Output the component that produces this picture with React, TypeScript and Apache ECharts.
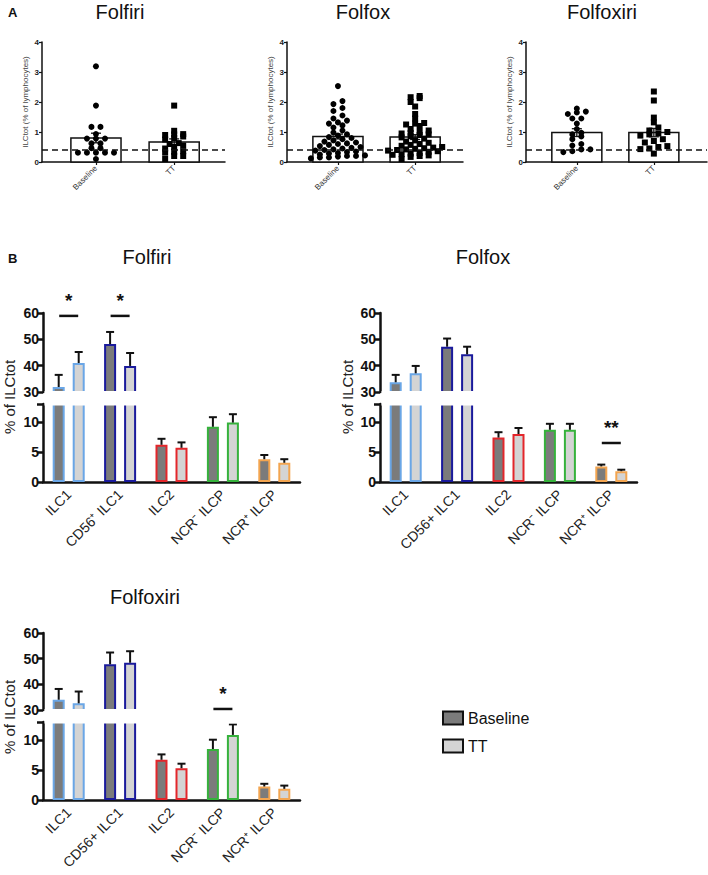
import React, { useEffect, useRef } from 'react';
import * as echarts from 'echarts';

const FONT = "'Liberation Sans', Arial, Helvetica, sans-serif";

// ---------- Panel A data ----------
const groupsA = ['Baseline', 'TT'];
const thresholdA = 0.4;
const folfiriBaselinePts = [3.19, 1.88, 1.17, 1.17, 0.93, 0.78, 0.78, 0.78, 0.62, 0.62, 0.46, 0.46, 0.31, 0.31, 0.31, 0.31, 0.31, 0.1];
const folfiriTTPts = [1.88, 1.04, 0.93, 0.92, 0.9, 0.85, 0.8, 0.75, 0.63, 0.6, 0.55, 0.5, 0.45, 0.36, 0.34, 0.31, 0.2, 0.2, 0.1];
const folfoxBaselinePts = [2.53, 2.03, 1.93, 1.8, 1.7, 1.55, 1.45, 1.38, 1.32, 1.28, 1.22, 1.15, 1.05, 0.98, 0.92, 0.88, 0.83, 0.8, 0.76, 0.72, 0.68, 0.65, 0.62, 0.6, 0.57, 0.53, 0.5, 0.47, 0.45, 0.42, 0.4, 0.38, 0.35, 0.33, 0.3, 0.28, 0.25, 0.22, 0.2, 0.2, 0.18, 0.15, 0.15, 0.12];
const folfoxTTPts = [2.2, 2.16, 2.13, 2.0, 1.85, 1.6, 1.45, 1.3, 1.28, 1.25, 1.2, 1.1, 1.05, 1.0, 0.97, 0.95, 0.92, 0.9, 0.86, 0.82, 0.78, 0.72, 0.68, 0.64, 0.6, 0.57, 0.54, 0.5, 0.48, 0.46, 0.44, 0.42, 0.4, 0.38, 0.36, 0.34, 0.3, 0.28, 0.26, 0.24, 0.22, 0.2, 0.17, 0.1];
const folfoxiriBaselinePts = [1.78, 1.68, 1.65, 1.6, 1.45, 1.45, 1.28, 1.1, 0.97, 0.92, 0.85, 0.76, 0.6, 0.55, 0.42, 0.42, 0.36, 0.33];
const folfoxiriTTPts = [2.35, 2.05, 1.48, 1.32, 1.15, 1.05, 1.0, 0.95, 0.92, 0.88, 0.76, 0.7, 0.65, 0.53, 0.5, 0.45, 0.43, 0.28];
const folfiriMeansA = [0.8, 0.67];
const folfiriSemA = [0.16, 0.1];
const folfoxMeansA = [0.85, 0.83];
const folfoxSemA = [0.08, 0.08];
const folfoxiriMeansA = [0.98, 0.98];
const folfoxiriSemA = [0.13, 0.14];

// ---------- Panel B data ----------
const catsFolfiri = ['ILC1', 'CD56⁺ ILC1', 'ILC2', 'NCR⁻ ILCP', 'NCR⁺ ILCP'];
const catsFolfox = ['ILC1', 'CD56+ ILC1', 'ILC2', 'NCR⁻ ILCP', 'NCR⁺ ILCP'];
const catsFolfoxiri = ['ILC1', 'CD56+ ILC1', 'ILC2', 'NCR⁻ ILCP', 'NCR⁺ ILCP'];
const catColors = ['#6aa6e6', '#1a1a9c', '#e3262b', '#36b23c', '#f3a550'];

const folfiriBaseline = [31.9, 48.2, 6.2, 9.2, 3.8];
const folfiriBaselineSem = [4.6, 4.6, 1.0, 1.6, 0.7];
const folfiriTT = [41.0, 39.9, 5.7, 9.9, 3.2];
const folfiriTTSem = [4.2, 4.9, 0.9, 1.4, 0.6];

const folfoxBaseline = [33.7, 47.2, 7.4, 8.7, 2.6];
const folfoxBaselineSem = [2.8, 3.1, 0.9, 1.0, 0.3];
const folfoxTT = [37.1, 44.3, 8.0, 8.7, 1.8];
const folfoxTTSem = [2.8, 2.9, 1.0, 1.0, 0.25];

const folfoxiriBaseline = [34.0, 47.8, 6.7, 8.5, 2.25];
const folfoxiriBaselineSem = [4.2, 4.6, 0.9, 1.55, 0.45];
const folfoxiriTT = [32.6, 48.4, 5.3, 10.85, 1.86];
const folfoxiriTTSem = [4.6, 4.5, 0.75, 1.75, 0.54];

// significance annotations: [category index, y value, segment, text]
const sigFolfiri: [number, number, string, string][] = [[0, 58.9, 'upper', '*'], [1, 58.9, 'upper', '*']];
const sigFolfox: [number, number, string, string][] = [[4, 6.5, 'lower', '**']];
const sigFolfoxiri: [number, number, string, string][] = [[3, 30.4, 'upper', '*']];

const upperTicks = [30, 40, 50, 60];
const lowerLabels = [0, 5, 10];
const lowerTicks = [0, 5, 10, 13];
const brokenUpper = [30, 60];
const brokenLowerMax = 13;
const fillBaseline = '#7b7b7b';
const fillTT = '#d4d4d4';

// ---------- layout ----------
const layoutA = [
  { left: 42, width: 183, min: -0.69, max: 1.65, pxPerUnit: 78, titleX: 120 },
  { left: 287, width: 176, min: -0.66, max: 1.62, pxPerUnit: 77, titleX: 363 },
  { left: 526, width: 181, min: -0.66, max: 1.69, pxPerUnit: 77, titleX: 602 },
];
const A_TOP = 42;
const A_HEIGHT = 120;

const layoutB = [
  { left: 43, width: 257, upperTop: 313, upperH: 79, lowerTop: 404, lowerH: 78, titleX: 147, titleY: 257, nameX: 9, nameY: 397 },
  { left: 380, width: 257, upperTop: 313, upperH: 79, lowerTop: 404, lowerH: 78, titleX: 483, titleY: 257, nameX: 347, nameY: 397 },
  { left: 43, width: 257, upperTop: 633, upperH: 77, lowerTop: 722, lowerH: 78, titleX: 145, titleY: 597, nameX: 9, nameY: 717 },
];

function swarm(vals: number[], binSize: number, stepUnits: number, center: number) {
  const sorted = [...vals].sort((a, b) => a - b);
  const rows: number[][] = [];
  for (const v of sorted) {
    const last = rows[rows.length - 1];
    if (last && v - last[0] < binSize) last.push(v);
    else rows.push([v]);
  }
  const out: number[][] = [];
  rows.forEach((r) => r.forEach((v, i) => out.push([center + (i - (r.length - 1) / 2) * stepUnits, v])));
  return out;
}

function buildOption() {
  const grid: any[] = [];
  const xAxis: any[] = [];
  const yAxis: any[] = [];
  const series: any[] = [];
  const graphic: any[] = [];

  // ----- Panel A -----
  const chartsA = [
    { title: 'Folfiri', base: folfiriBaselinePts, tt: folfiriTTPts, means: folfiriMeansA, sem: folfiriSemA },
    { title: 'Folfox', base: folfoxBaselinePts, tt: folfoxTTPts, means: folfoxMeansA, sem: folfoxSemA },
    { title: 'Folfoxiri', base: folfoxiriBaselinePts, tt: folfoxiriTTPts, means: folfoxiriMeansA, sem: folfoxiriSemA },
  ];
  chartsA.forEach((c, i) => {
    const L = layoutA[i];
    const gi = grid.length;
    grid.push({ left: L.left, top: A_TOP, width: L.width, height: A_HEIGHT });
    xAxis.push({
      gridIndex: gi, type: 'value', min: L.min, max: L.max,
      splitLine: { show: false },
      axisLine: { onZero: false, lineStyle: { color: '#111', width: 1.5 } },
      axisTick: { show: true, length: 3, lineStyle: { color: '#111', width: 1.2 }, customValues: [0, 1] },
      axisLabel: {
        customValues: [0, 1], formatter: (v: number) => groupsA[Math.round(v)] ?? '',
        rotate: 45, fontSize: 8, color: '#333', fontFamily: FONT, margin: 5,
      },
    });
    yAxis.push({
      gridIndex: gi, type: 'value', min: 0, max: 4, interval: 1,
      name: 'ILCtot (% of lymphocytes)', nameLocation: 'middle', nameGap: 13, nameRotate: 90,
      nameTextStyle: { fontSize: 8, color: '#444', fontFamily: FONT },
      splitLine: { show: false },
      axisLine: { show: true, onZero: false, lineStyle: { color: '#111', width: 1.5 } },
      axisTick: { show: true, length: 3, lineStyle: { color: '#111', width: 1.2 } },
      axisLabel: { fontSize: 8, fontWeight: 'bold', color: '#222', fontFamily: FONT, margin: 3 },
    });
    const halfW = 25 / L.pxPerUnit;
    const capHalf = 5;
    series.push({
      type: 'custom', xAxisIndex: gi, yAxisIndex: gi, z: 1,
      data: c.means.map((m, k) => [k, m, c.sem[k]]),
      renderItem: (params: any, api: any) => {
        const x = api.value(0), m = api.value(1), s = api.value(2);
        const tl = api.coord([x - halfW, m]);
        const br = api.coord([x + halfW, 0]);
        const top = api.coord([x, m + s]);
        const bot = api.coord([x, m - s]);
        return {
          type: 'group',
          children: [
            { type: 'rect', shape: { x: tl[0], y: tl[1], width: br[0] - tl[0], height: br[1] - tl[1] }, style: { fill: '#fff', stroke: '#111', lineWidth: 1.5 } },
            { type: 'line', z2: 5, shape: { x1: top[0], y1: top[1], x2: bot[0], y2: bot[1] }, style: { stroke: '#111', lineWidth: 1.3 } },
            { type: 'line', z2: 5, shape: { x1: top[0] - capHalf, y1: top[1], x2: top[0] + capHalf, y2: top[1] }, style: { stroke: '#111', lineWidth: 1.3 } },
            { type: 'line', z2: 5, shape: { x1: bot[0] - capHalf, y1: bot[1], x2: bot[0] + capHalf, y2: bot[1] }, style: { stroke: '#111', lineWidth: 1.3 } },
          ],
        };
      },
    });
    const step = 9 / L.pxPerUnit;
    series.push({
      type: 'scatter', xAxisIndex: gi, yAxisIndex: gi, z: 3, symbol: 'circle', symbolSize: 6,
      itemStyle: { color: '#000', opacity: 1 }, data: swarm(c.base, 0.13, step, 0),
      markLine: {
        silent: true, symbol: 'none', label: { show: false },
        lineStyle: { type: [6, 4], color: '#111', width: 1.5 },
        data: [{ yAxis: thresholdA }],
      },
    });
    series.push({
      type: 'scatter', xAxisIndex: gi, yAxisIndex: gi, z: 3, symbol: 'rect', symbolSize: 6,
      itemStyle: { color: '#000', opacity: 1 }, data: swarm(c.tt, 0.13, step, 1),
    });
    graphic.push({ type: 'text', x: L.titleX, y: 12, style: { text: c.title, fontSize: 20, fontFamily: FONT, fill: '#111', align: 'center', verticalAlign: 'middle' } });
  });

  // ----- Panel B -----
  const chartsB = [
    { title: 'Folfiri', cats: catsFolfiri, base: folfiriBaseline, baseSem: folfiriBaselineSem, tt: folfiriTT, ttSem: folfiriTTSem, sig: sigFolfiri },
    { title: 'Folfox', cats: catsFolfox, base: folfoxBaseline, baseSem: folfoxBaselineSem, tt: folfoxTT, ttSem: folfoxTTSem, sig: sigFolfox },
    { title: 'Folfoxiri', cats: catsFolfoxiri, base: folfoxiriBaseline, baseSem: folfoxiriBaselineSem, tt: folfoxiriTT, ttSem: folfoxiriTTSem, sig: sigFolfoxiri },
  ];
  const BAR_W = 12;
  const BAR_OFF = 10;
  chartsB.forEach((c, i) => {
    const L = layoutB[i];
    const segs = [
      { key: 'upper', top: L.upperTop, h: L.upperH, min: brokenUpper[0], max: brokenUpper[1] },
      { key: 'lower', top: L.lowerTop, h: L.lowerH, min: 0, max: brokenLowerMax },
    ];
    segs.forEach((sg) => {
      const gi = grid.length;
      grid.push({ left: L.left, top: sg.top, width: L.width, height: sg.h });
      const isLower = sg.key === 'lower';
      xAxis.push({
        gridIndex: gi, type: 'category', data: c.cats, show: isLower,
        axisLine: { lineStyle: { color: '#111', width: 2.5 } },
        axisTick: { alignWithLabel: true, length: 6, lineStyle: { color: '#111', width: 2.5 } },
        axisLabel: { rotate: 45, fontSize: 14, color: '#222', fontFamily: FONT, margin: 10, interval: 0 },
      });
      yAxis.push(isLower ? {
        gridIndex: gi, type: 'value', min: 0, max: brokenLowerMax,
        splitLine: { show: false },
        axisLine: { show: true, lineStyle: { color: '#111', width: 2.5 } },
        axisTick: { show: true, length: 6, customValues: lowerTicks, lineStyle: { color: '#111', width: 2.5 } },
        axisLabel: { customValues: lowerLabels, fontSize: 14, fontWeight: 'bold', color: '#111', fontFamily: FONT, margin: 4 },
      } : {
        gridIndex: gi, type: 'value', min: brokenUpper[0], max: brokenUpper[1], interval: 10,
        splitLine: { show: false },
        axisLine: { show: true, lineStyle: { color: '#111', width: 2.5 } },
        axisTick: { show: true, length: 6, customValues: upperTicks, lineStyle: { color: '#111', width: 2.5 } },
        axisLabel: { customValues: upperTicks, fontSize: 14, fontWeight: 'bold', color: '#111', fontFamily: FONT, margin: 4 },
      });
      const groups = [
        { name: 'Baseline', vals: c.base, sem: c.baseSem, fill: fillBaseline, off: -BAR_OFF },
        { name: 'TT', vals: c.tt, sem: c.ttSem, fill: fillTT, off: BAR_OFF },
      ];
      groups.forEach((g) => {
        series.push({
          type: 'bar', name: g.name, xAxisIndex: gi, yAxisIndex: gi, barWidth: BAR_W, barGap: '66.7%', clip: true, z: 2,
          itemStyle: { color: g.fill, borderColor: '#111', borderWidth: 2 },
          data: g.vals.map((v, k) => ({ value: v, itemStyle: { color: g.fill, borderColor: catColors[k], borderWidth: 2 } })),
        });
      });
      groups.forEach((g) => {
        const errData = g.vals
          .map((v, k) => [k, v, g.sem[k]])
          .filter((d) => d[1] >= sg.min && d[1] <= sg.max);
        series.push({
          type: 'custom', xAxisIndex: gi, yAxisIndex: gi, z: 3,
          data: errData,
          renderItem: (params: any, api: any) => {
            const k = api.value(0), m = api.value(1), s = api.value(2);
            const b = api.coord([k, m]);
            const t = api.coord([k, m + s]);
            const x = b[0] + g.off;
            return {
              type: 'group',
              children: [
                { type: 'line', shape: { x1: x, y1: b[1], x2: x, y2: t[1] }, style: { stroke: '#111', lineWidth: 2 } },
                { type: 'line', shape: { x1: x - 4, y1: t[1], x2: x + 4, y2: t[1] }, style: { stroke: '#111', lineWidth: 2 } },
              ],
            };
          },
        });
      });
      const sigs = c.sig.filter((s) => s[2] === sg.key);
      if (sigs.length) {
        series.push({
          type: 'custom', xAxisIndex: gi, yAxisIndex: gi, z: 200,
          data: sigs.map((s) => [s[0], s[1]]),
          renderItem: (params: any, api: any) => {
            const p = api.coord([api.value(0), api.value(1)]);
            const txt = sigs[params.dataIndex][3];
            return {
              type: 'group',
              children: [
                { type: 'line', shape: { x1: p[0] - BAR_OFF + 0.5, y1: p[1], x2: p[0] + BAR_OFF - 0.5, y2: p[1] }, style: { stroke: '#111', lineWidth: 2.5 } },
                { type: 'text', x: p[0], y: p[1] - 6, style: { text: txt, fontSize: 19, fontWeight: 'bold', fontFamily: FONT, fill: '#111', align: 'center', verticalAlign: 'bottom' } },
              ],
            };
          },
        });
      }
    });
    // cover the gap between the two axis segments (break)
    const gapTop = L.upperTop + L.upperH - 1;
    const gapBottom = L.lowerTop + 1.5;
    graphic.push({ type: 'rect', z: 100, shape: { x: L.left + 1.5, y: gapTop, width: L.width + 6, height: gapBottom - gapTop }, style: { fill: '#ffffff' } });
    graphic.push({ type: 'text', x: L.titleX, y: L.titleY, style: { text: c.title, fontSize: 20, fontFamily: FONT, fill: '#111', align: 'center', verticalAlign: 'middle' } });
    graphic.push({ type: 'text', x: L.nameX, y: L.nameY, rotation: Math.PI / 2, style: { text: '% of ILCtot', fontSize: 15, fontFamily: FONT, fill: '#222', align: 'center', verticalAlign: 'middle' } });
  });

  graphic.push({ type: 'text', x: 8, y: 12, style: { text: 'A', fontSize: 13, fontWeight: 'bold', fontFamily: FONT, fill: '#111', align: 'left', verticalAlign: 'middle' } });
  graphic.push({ type: 'text', x: 8, y: 258, style: { text: 'B', fontSize: 13, fontWeight: 'bold', fontFamily: FONT, fill: '#111', align: 'left', verticalAlign: 'middle' } });

  return {
    animation: false,
    backgroundColor: '#ffffff',
    grid, xAxis, yAxis, series, graphic,
    legend: {
      orient: 'vertical', left: 437, top: 705, itemWidth: 20, itemHeight: 13, itemGap: 12,
      selectedMode: false,
      textStyle: { fontSize: 16, color: '#111', fontFamily: FONT },
      data: [
        { name: 'Baseline', icon: 'rect', itemStyle: { color: fillBaseline, borderColor: '#111', borderWidth: 2 } },
        { name: 'TT', icon: 'rect', itemStyle: { color: fillTT, borderColor: '#111', borderWidth: 2 } },
      ],
    },
  };
}

export default function App() {
  const ref = useRef<HTMLDivElement>(null);
  useEffect(() => {
    document.body.style.margin = '0';
    const chart = echarts.init(ref.current!, undefined, { renderer: 'svg' });
    chart.setOption(buildOption() as any);
    return () => chart.dispose();
  }, []);
  return <div ref={ref} style={{ width: 708, height: 875 }} />;
}
